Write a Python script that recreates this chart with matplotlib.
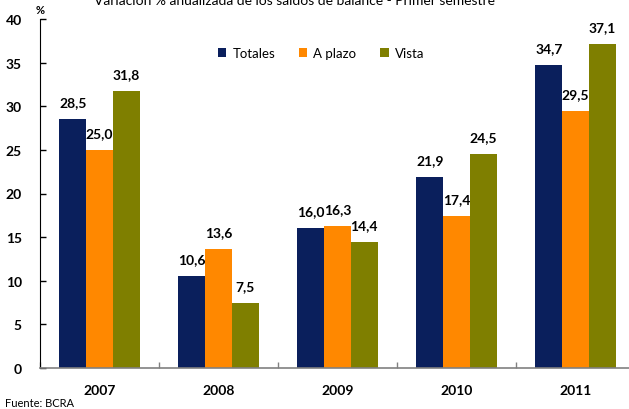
import matplotlib
matplotlib.use("Agg")
import matplotlib.pyplot as plt
import numpy as np
from matplotlib.patches import Patch

years = ["2007", "2008", "2009", "2010", "2011"]
series_names = ["Totales", "A plazo", "Vista"]
totales = [28.5, 10.6, 16.0, 21.9, 34.7]
a_plazo = [25.0, 13.6, 16.3, 17.4, 29.5]
vista = [31.8, 7.5, 14.4, 24.5, 37.1]
colors = ["#0A1F5C", "#FF8800", "#7F7F00"]
yticks = [0, 5, 10, 15, 20, 25, 30, 35, 40]

plt.rcParams['font.family'] = ['Lato', 'DejaVu Sans']

W, H = 629, 410
fig = plt.figure(figsize=(W/100, H/100), dpi=100)
ax = fig.add_axes([40/W, (H-369)/H, 595/W, 349/H])

x = np.arange(len(years))
bw = 0.225
data = [totales, a_plazo, vista]
for i, (vals, c) in enumerate(zip(data, colors)):
    pos = x + (i-1)*bw
    ax.bar(pos, vals, width=bw, color=c, label=series_names[i])
    for p, v in zip(pos, vals):
        ax.text(p, v + 1.25, f"{v:.1f}".replace(".", ","), ha='center', va='bottom',
                fontsize=10, fontweight='bold', color='black')

ax.set_xlim(-0.5, len(years)-0.5)
ax.set_ylim(0, 40)
ax.set_yticks(yticks)
ax.set_yticklabels([str(t) for t in yticks], fontsize=10, fontweight='bold')
ax.tick_params(axis='y', direction='in', length=4, width=1, pad=13)

ax.set_xticks(np.arange(-0.5, len(years)+0.5, 1.0))
ax.set_xticklabels([])
ax.tick_params(axis='x', direction='in', length=4, width=1, color='#808080')
for xi, yr in zip(x, years):
    ax.text(xi, -2.5, yr, ha='center', va='center', fontsize=10, fontweight='bold')

ax.spines['top'].set_visible(False)
ax.spines['right'].set_visible(False)
ax.spines['bottom'].set_color('#808080')
ax.spines['bottom'].set_linewidth(1.2)
ax.spines['left'].set_color('black')

handles = [Patch(facecolor=c) for c in colors]
leg = ax.legend(handles, series_names, loc='upper center', bbox_to_anchor=(321/W, 1-36/H),
                bbox_transform=fig.transFigure, ncol=3, frameon=False, fontsize=9.5,
                handlelength=0.65, handleheight=0.65, columnspacing=1.8, handletextpad=0.45)

fig.text(295/W, 1-1/H, "Variación % anualizada de los saldos de balance - Primer semestre",
         ha='center', va='center', fontsize=10)
fig.text(40/W, 1-10/H, "%", ha='center', va='center', fontsize=8, fontweight='bold')
fig.text(5/W, 1-404/H, "Fuente: BCRA", ha='left', va='center', fontsize=8)

fig.savefig("out.png", dpi=100)
